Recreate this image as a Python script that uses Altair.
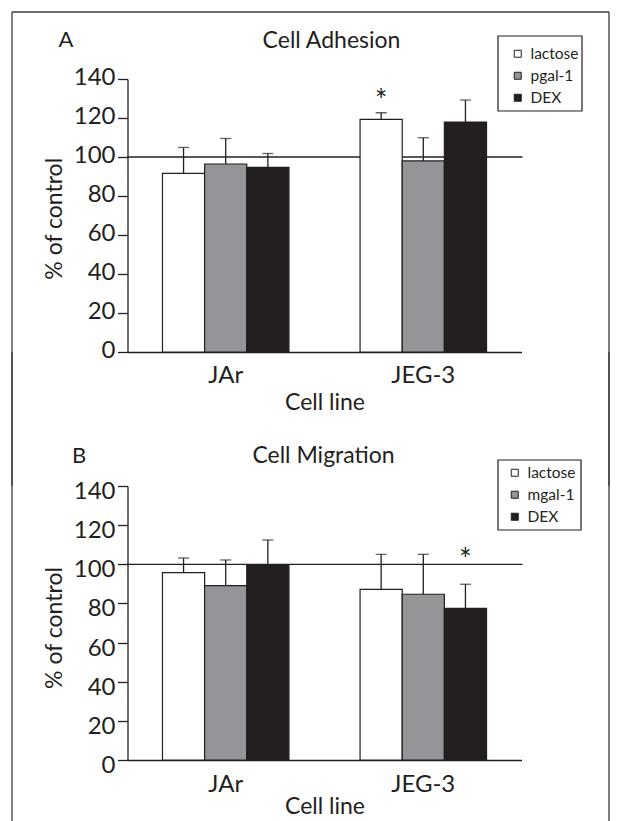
import altair as alt
import pandas as pd

# ---- data ----
cell_lines = ["JAr", "JEG-3"]
treat_a = ["lactose", "pgal-1", "DEX"]
treat_b = ["lactose", "mgal-1", "DEX"]
bar_colors = ["#ffffff", "#939598", "#231f20"]

# order: JAr (lactose, gal-1, DEX), JEG-3 (lactose, gal-1, DEX)
adh_mean = [91.6, 96.4, 94.7, 119.3, 98.0, 117.9]
adh_upper = [104.9, 109.5, 101.8, 122.7, 109.9, 129.2]
adh_star_cell = ["JEG-3"]
adh_star_treat = ["lactose"]
adh_star_y = [131.8]

mig_mean = [95.7, 89.1, 99.6, 87.2, 84.7, 77.5]
mig_upper = [103.2, 102.2, 112.4, 105.1, 105.1, 89.8]
mig_star_cell = ["JEG-3"]
mig_star_treat = ["DEX"]
mig_star_y = [105.1]

y_ticks = [0, 20, 40, 60, 80, 100, 120, 140]
control_level = [100]

INK = "#231f20"
FONT = "Lato"
W = 394


def panel(letter, title, treats, means, uppers, s_cell, s_treat, s_y, H, geo):
    rows = []
    i = 0
    for c in cell_lines:
        for t in treats:
            rows.append({"cell": c, "treatment": t, "mean": means[i], "upper": uppers[i]})
            i += 1
    df = pd.DataFrame(rows)
    stars = pd.DataFrame({"cell": s_cell, "treatment": s_treat, "y": s_y})
    one = pd.DataFrame({"k": [0]})
    ctrl = pd.DataFrame({"v": control_level})

    xs = alt.Scale(domain=cell_lines, paddingInner=0.36, paddingOuter=0.177)
    xaxis = alt.Axis(ticks=False, domainColor=INK, domainWidth=1.3, labelFont=FONT,
                     labelFontSize=24, labelPadding=geo["xlabpad"], labelAngle=0,
                     labelColor=INK, titleFont=FONT, titleFontSize=23,
                     titleFontWeight="normal", titleColor=INK, titleY=geo["xtitley"],
                     titleBaseline="alphabetic")
    X = alt.X("cell:N", scale=xs, axis=xaxis, title="Cell line")
    XO = alt.XOffset("treatment:N", scale=alt.Scale(domain=treats, paddingInner=0, paddingOuter=0))
    ys = alt.Scale(domain=[0, 140], nice=False)
    yaxis = alt.Axis(values=y_ticks, grid=False, domainColor=INK, domainWidth=1.3,
                     tickColor=INK, tickWidth=1.3, tickSize=10, labelFont=FONT,
                     labelFontSize=24, labelPadding=2.5, labelColor=INK,
                     labelBaseline="middle", labelOffset=geo["ylaboff"],
                     titleFont=FONT, titleFontSize=23, titleFontWeight="normal",
                     titleColor=INK, titleX=-66, titleY=geo["ytitley"], titleAngle=-90,
                     titleBaseline="alphabetic", titleAlign="center")

    def Y(field):
        return alt.Y(field, scale=ys, axis=yaxis, title="% of control")

    fx0, fx1, fy0, fy1 = geo["frame"]
    frame_l = alt.Chart(one).mark_rule(color="#3a3a3a", strokeWidth=1.3).encode(
        x=alt.value(fx0), y=alt.value(fy0), y2=alt.value(fy1))
    frame_r = alt.Chart(one).mark_rule(color="#3a3a3a", strokeWidth=1.3).encode(
        x=alt.value(fx1), y=alt.value(fy0), y2=alt.value(fy1))
    layers = [frame_l, frame_r]
    if geo.get("top"):
        layers.append(alt.Chart(one).mark_rule(color="#3a3a3a", strokeWidth=1.3).encode(
            x=alt.value(fx0), x2=alt.value(fx1), y=alt.value(fy0)))

    ref = alt.Chart(ctrl).mark_rule(color=INK, strokeWidth=1.3).encode(
        y=Y("v:Q"), x=alt.value(0), x2=alt.value(W + 1))

    bars = alt.Chart(df).mark_bar(stroke=INK, strokeWidth=1.2).encode(
        x=X, xOffset=XO, y=Y("mean:Q"),
        color=alt.Color("treatment:N", scale=alt.Scale(domain=treats, range=bar_colors),
                        legend=alt.Legend(title=None, orient="none", legendX=geo["legx"],
                                          legendY=geo["legy"], symbolType="square",
                                          symbolSize=49, symbolStrokeColor=INK,
                                          symbolStrokeWidth=1, labelFont=FONT,
                                          labelFontSize=15.5, labelColor=INK, labelOffset=5,
                                          rowPadding=5, padding=0)))
    err = alt.Chart(df).mark_rule(color=INK, strokeWidth=1.3).encode(
        x=X, xOffset=XO, y=Y("mean:Q"), y2="upper:Q")
    cap = alt.Chart(df).mark_tick(color=INK, thickness=1.3, size=11).encode(
        x=X, xOffset=XO, y=Y("upper:Q"))
    star = alt.Chart(stars).mark_text(font=FONT, fontSize=30, color=INK,
                                      baseline="alphabetic", dy=16).encode(
        x=X, xOffset=XO, y=Y("y:Q"), text=alt.value("*"))

    bx0, bx1, by0, by1 = geo["box"]
    box = alt.Chart(one).mark_rect(fill="white", stroke=INK, strokeWidth=1.2).encode(
        x=alt.value(bx0), x2=alt.value(bx1), y=alt.value(by0), y2=alt.value(by1))

    lx, ly = geo["letter"]
    tx, ty = geo["title"]
    let = alt.Chart(one).mark_text(font=FONT, fontSize=22, color=INK, baseline="alphabetic").encode(
        x=alt.value(lx), y=alt.value(ly), text=alt.value(letter))
    ttl = alt.Chart(one).mark_text(font=FONT, fontSize=23, color=INK, baseline="alphabetic").encode(
        x=alt.value(tx), y=alt.value(ty), text=alt.value(title))

    layers += [box, ref, bars, err, cap, star, let, ttl]
    return alt.layer(*layers).properties(width=W, height=H)


geo_a = dict(xlabpad=11, xtitley=57, ylaboff=-2, ytitley=139.3,
             frame=(-115.5, 481.5, -67, 407), top=True,
             legx=382.5, legy=-33, box=(370.5, 454.5, -43, 32),
             letter=(-61.5, -31.7), title=(204, -30.7))
geo_b = dict(xlabpad=12, xtitley=53.5, ylaboff=5.5, ytitley=141.5,
             frame=(-115.5, 481.5, -134, 345),
             legx=379.5, legy=-21, box=(370.5, 453.5, -26, 44),
             letter=(-48.5, -22.7), title=(196, -22.7))

pa = panel("A", "Cell Adhesion", treat_a, adh_mean, adh_upper,
           adh_star_cell, adh_star_treat, adh_star_y, 273, geo_a)
pb = panel("B", "Cell Migration", treat_b, mig_mean, mig_upper,
           mig_star_cell, mig_star_treat, mig_star_y, 274, geo_b)

chart = alt.vconcat(pa, pb, spacing=134, bounds="flush").resolve_scale(
    color="independent", x="independent", y="independent", xOffset="independent"
).properties(
    padding={"left": 2.5, "top": 3, "right": 0, "bottom": 0}, background="white"
).configure_view(stroke=None)

chart.save("out.html", embed_options={"renderer": "svg", "actions": False})
